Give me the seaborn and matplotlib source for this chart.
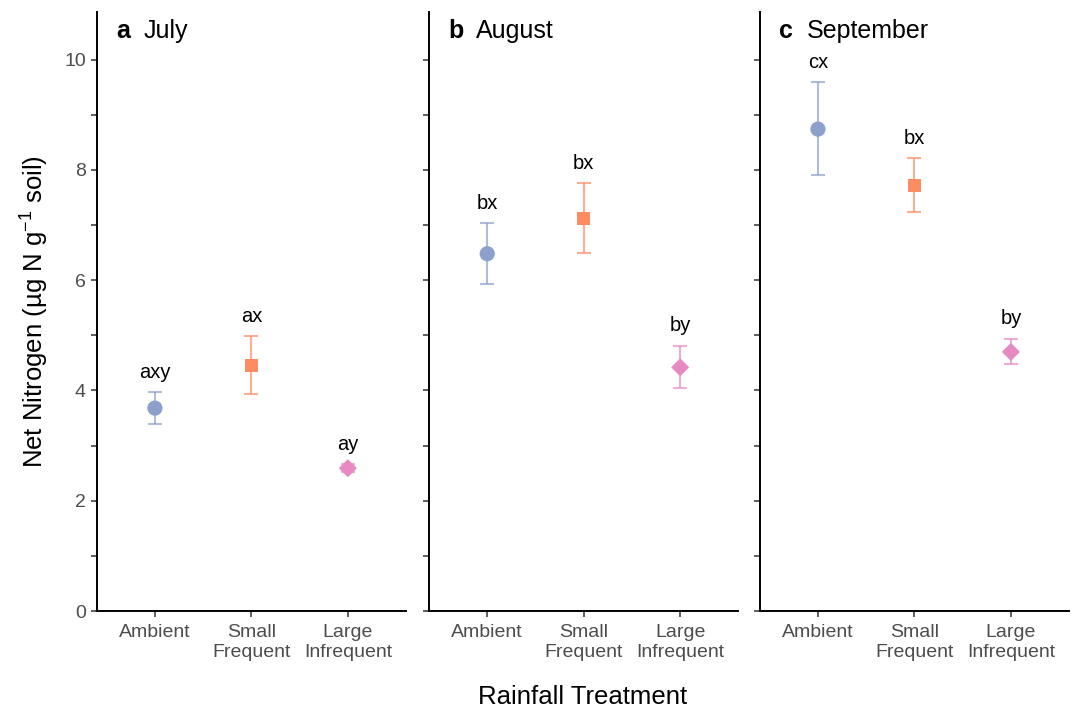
import numpy as np
import pandas as pd
import seaborn as sns
import matplotlib as mpl
import matplotlib.pyplot as plt

# === PLOT SETTINGS ===
sns.set_style('ticks')
mpl.rcParams.update({
    'font.family': ['Liberation Sans', 'DejaVu Sans'],
    'mathtext.fontset': 'custom',
    'mathtext.rm': 'Liberation Sans',
    'mathtext.it': 'Liberation Sans:italic',
    'text.color': 'black',
    'axes.edgecolor': 'black',
    'axes.linewidth': 1.4,
    'xtick.major.width': 1.1,
    'ytick.major.width': 1.1,
    'xtick.major.size': 4,
    'ytick.major.size': 4,
    'xtick.major.pad': 5,
    'ytick.major.pad': 4,
})

# === DATA ===
months = ['July', 'August', 'September']
panel_letters = ['a', 'b', 'c']
treatments = ['Ambient', 'Small Frequent', 'Large Infrequent']
tick_labels = ['Ambient', 'Small\nFrequent', 'Large\nInfrequent']

mean_july = [3.68, 4.45, 2.59]
low_july = [3.40, 3.93, 2.53]
high_july = [3.97, 4.99, 2.66]
sig_july = ['axy', 'ax', 'ay']

mean_aug = [6.48, 7.12, 4.42]
low_aug = [5.93, 6.49, 4.05]
high_aug = [7.03, 7.76, 4.81]
sig_aug = ['bx', 'bx', 'by']

mean_sep = [8.74, 7.72, 4.70]
low_sep = [7.90, 7.24, 4.48]
high_sep = [9.59, 8.21, 4.94]
sig_sep = ['cx', 'bx', 'by']

colors = {'Ambient': '#8DA0CB', 'Small Frequent': '#FC8D62',
          'Large Infrequent': '#E78AC3'}
markers = {'Ambient': 'o', 'Small Frequent': 's', 'Large Infrequent': 'D'}
msizes = {'Ambient': 120, 'Small Frequent': 90, 'Large Infrequent': 85}

df = pd.DataFrame({
    'Month': np.repeat(months, 3),
    'Treatment': treatments * 3,
    'Mean': mean_july + mean_aug + mean_sep,
    'Low': low_july + low_aug + low_sep,
    'High': high_july + high_aug + high_sep,
    'Sig': sig_july + sig_aug + sig_sep,
})

# === FIGURE SETUP ===
fig = plt.figure(figsize=(10.72, 7.11), dpi=100)
lefts = [0.0905, 0.4005, 0.709]
axes = [fig.add_axes([l, 0.1406, 0.288, 0.843]) for l in lefts]

for i, (ax, month) in enumerate(zip(axes, months)):
    sub = df[df['Month'] == month].reset_index(drop=True)
    xpos = np.arange(len(sub))
    sub['x'] = xpos

    # error bars
    for j, row in sub.iterrows():
        ax.errorbar(j, row['Mean'],
                    yerr=[[row['Mean'] - row['Low']], [row['High'] - row['Mean']]],
                    fmt='none', ecolor=colors[row['Treatment']], alpha=0.7,
                    elinewidth=1.5, capsize=5, capthick=1.5, zorder=2)

    sns.scatterplot(data=sub, x='x', y='Mean', hue='Treatment', style='Treatment',
                    palette=colors, markers=markers, size='Treatment',
                    sizes=msizes, linewidth=0, legend=False, ax=ax, zorder=3)

    # significance letters
    for j, row in sub.iterrows():
        ax.text(j, row['High'] + 0.36, row['Sig'], ha='center', va='center',
                fontsize=14.5, color='black')

    ax.text(0.062, 0.968, panel_letters[i], transform=ax.transAxes,
            fontsize=18, fontweight='bold', ha='left', va='center')
    ax.text(0.152, 0.968, month, transform=ax.transAxes,
            fontsize=18, ha='left', va='center')

    ax.set_xlim(-0.6, 2.6)
    ax.set_ylim(0, 10.87)
    ax.set_yticks(np.arange(0, 11, 1))
    ax.set_yticklabels(['0', '', '2', '', '4', '', '6', '', '8', '', '10'] if i == 0
                       else [''] * 11)
    ax.set_xticks(xpos)
    ax.set_xticklabels(tick_labels, linespacing=1.3)
    ax.tick_params(axis='both', colors='#333333', labelcolor='#4D4D4D',
                   labelsize=14)
    ax.set_xlabel('')
    ax.set_ylabel('')
    sns.despine(ax=ax)

# === LABELS ===
fig.text(0.543, 0.019, 'Rainfall Treatment', ha='center', va='center', fontsize=18.5)
fig.text(0.033, 0.5625, 'Net Nitrogen (µg N g$^{-1}$ soil)', ha='center',
         va='center', rotation=90, fontsize=18.5)

fig.savefig('out.png', dpi=100)
